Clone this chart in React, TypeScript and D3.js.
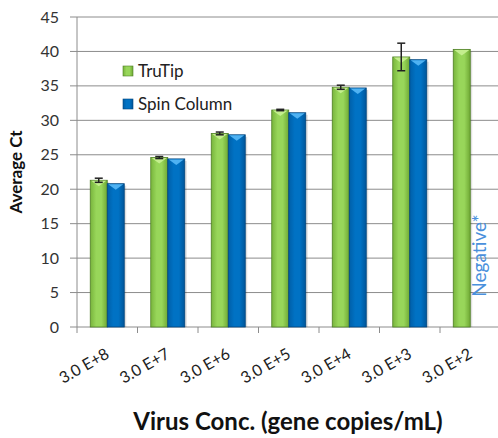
import React from 'react';
import * as d3 from 'd3';

const categories = ['3.0 E+8', '3.0 E+7', '3.0 E+6', '3.0 E+5', '3.0 E+4', '3.0 E+3', '3.0 E+2'];
const seriesNames = ['TruTip', 'Spin Column'];
const truTip = [21.3, 24.6, 28.1, 31.5, 34.8, 39.2, 40.3];
const truTipErr = [0.3, 0.15, 0.2, 0.1, 0.3, 2.0, 0];
const spinColumn: (number | null)[] = [20.8, 24.4, 27.9, 31.1, 34.7, 38.8, null];
const yTicks = [0, 5, 10, 15, 20, 25, 30, 35, 40, 45];

const W = 498;
const H = 438;
const left = 77;
const right = 500.5;
const top = 17;
const bottom = 327;
const font = 'Lato, "Open Sans", sans-serif';

const App = () => {
  const x0 = d3.scaleBand<string>().domain(categories).range([left, right]).paddingInner(0.438).paddingOuter(0.219);
  const x1 = d3.scaleBand<string>().domain(seriesNames).range([0, x0.bandwidth()]);
  const y = d3.scaleLinear().domain([0, 45]).range([bottom, top]);
  const step = x0.step();
  const bw = x1.bandwidth();

  const bar = (cat: string, s: string, v: number, fill: string, edge: string, cap: string, key: string) => {
    const bx = (x0(cat) as number) + (x1(s) as number);
    const by = y(v);
    const h = bottom - by;
    return (
      <g key={key}>
        <rect x={bx + 2} y={by + 2} width={bw} height={h - 2} fill="#000" opacity={0.12} />
        <rect x={bx} y={by} width={bw} height={h} fill={fill} stroke={edge} strokeWidth={0.8} />
        <path d={`M${bx + 1},${by + 0.5}L${bx + bw - 1},${by + 0.5}L${bx + bw / 2},${by + 6}Z`} fill={cap} />
      </g>
    );
  };

  return (
    <svg width={W} height={H} style={{ position: 'absolute', left: 0, top: 0, background: '#fff' }}>
      <defs>
        <linearGradient id="gGreen" x1="0" x2="1" y1="0" y2="0">
          <stop offset="0" stopColor="#78b43c" />
          <stop offset="0.35" stopColor="#98d65a" />
          <stop offset="0.65" stopColor="#98d65a" />
          <stop offset="1" stopColor="#6fa834" />
        </linearGradient>
        <linearGradient id="gBlue" x1="0" x2="1" y1="0" y2="0">
          <stop offset="0" stopColor="#005fa8" />
          <stop offset="0.35" stopColor="#0072c4" />
          <stop offset="0.65" stopColor="#0072c4" />
          <stop offset="1" stopColor="#00569a" />
        </linearGradient>
      </defs>

      {/* gridlines */}
      {yTicks.map((t) => (
        <line key={'g' + t} x1={left - 7} x2={W} y1={y(t)} y2={y(t)} stroke="#8c8c8c" strokeWidth={1} />
      ))}
      <line x1={left} x2={left} y1={top} y2={bottom} stroke="#8c8c8c" />
      {categories.map((c, i) => {
        const tx = (x0(c) as number) - (step * 0.438) / 2;
        return <line key={'t' + i} x1={tx} x2={tx} y1={bottom} y2={bottom + 6} stroke="#8c8c8c" />;
      })}

      {/* y tick labels */}
      {yTicks.map((t) => (
        <text key={'yl' + t} x={59} y={y(t)} dy="0.35em" textAnchor="end" fontFamily={font} fontSize={16} fill="#333">
          {t}
        </text>
      ))}

      {/* bars */}
      {categories.map((c, i) => (
        <g key={'c' + i}>
          {bar(c, 'TruTip', truTip[i], 'url(#gGreen)', '#4f7f26', '#c4ee8e', 'a' + i)}
          {spinColumn[i] != null && bar(c, 'Spin Column', spinColumn[i] as number, 'url(#gBlue)', '#00457d', '#4fb2f2', 'b' + i)}
        </g>
      ))}

      {/* error bars */}
      {categories.map((c, i) => {
        if (!truTipErr[i]) return null;
        const cx = (x0(c) as number) + (x1('TruTip') as number) + bw / 2;
        const y1 = y(truTip[i] + truTipErr[i]);
        const y2 = y(truTip[i] - truTipErr[i]);
        return (
          <g key={'e' + i} stroke="#222" strokeWidth={1.5}>
            <line x1={cx} x2={cx} y1={y1} y2={y2} />
            <line x1={cx - 4} x2={cx + 4} y1={y1} y2={y1} />
            <line x1={cx - 4} x2={cx + 4} y1={y2} y2={y2} />
          </g>
        );
      })}

      {/* Negative label */}
      <text
        transform={`translate(${(x0(categories[6]) as number) + (x1('Spin Column') as number) + bw / 2 + 1},${y(4.4)}) rotate(-90)`}
        dy="0.35em"
        fontFamily={font}
        fontSize={19}
        fill="#4a90dc"
      >
        Negative*
      </text>

      {/* x tick labels */}
      {categories.map((c, i) => {
        const cx = (x0(c) as number) + x0.bandwidth() / 2 + 3;
        return (
          <text key={'xl' + i} transform={`translate(${cx},${bottom + 30}) rotate(-30)`} textAnchor="end" fontFamily={font} fontSize={16} fill="#222">
            {c}
          </text>
        );
      })}

      {/* legend */}
      {seriesNames.map((s, i) => (
        <g key={'l' + i} transform={`translate(123,${66 + i * 33})`}>
          <rect width={10} height={10} fill={i === 0 ? 'url(#gGreen)' : 'url(#gBlue)'} stroke={i === 0 ? '#4f7f26' : '#00457d'} strokeWidth={0.6} />
          <text x={15} y={5} dy="0.35em" fontFamily={font} fontSize={17} fill="#222">
            {s}
          </text>
        </g>
      ))}

      {/* axis titles */}
      <text transform={`translate(16,${(top + bottom) / 2}) rotate(-90)`} textAnchor="middle" dy="0.35em" fontFamily={font} fontSize={17} fontWeight="bold" fill="#111">
        Average Ct
      </text>
      <text x={288} y={430} textAnchor="middle" fontFamily={font} fontSize={24} fontWeight="bold" fill="#111">
        Virus Conc. (gene copies/mL)
      </text>
    </svg>
  );
};

export default App;
